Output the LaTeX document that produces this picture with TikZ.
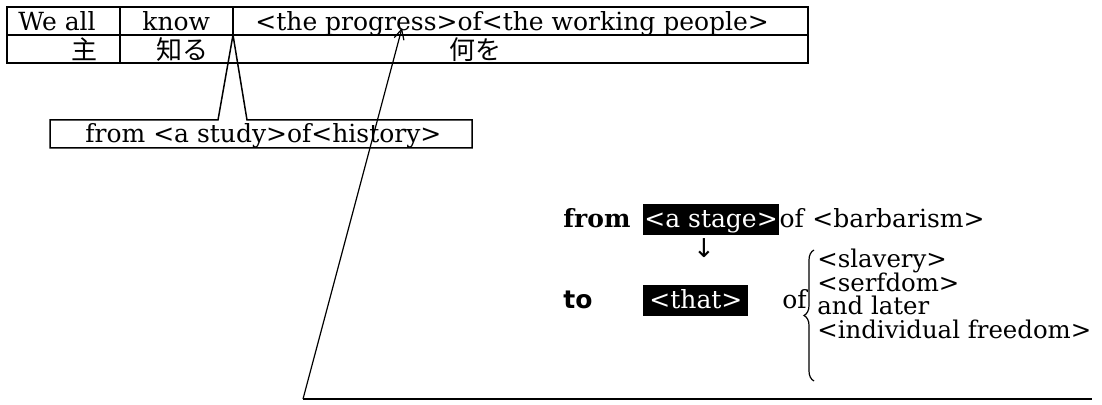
\documentclass[tikz,border=0pt]{standalone}
\usepackage{fontspec}
\setmainfont{DejaVu Serif}
\newfontfamily\jp{Noto Sans CJK JP}
\newfontfamily\sansf{DejaVu Sans}
\usetikzlibrary{arrows.meta,decorations.pathreplacing}
\begin{document}
\begin{tikzpicture}[x=0.5pt,y=-0.5pt,
  txt/.style={inner sep=0pt,anchor=base west,font=\fontsize{12.5pt}{14pt}\selectfont},
  ltxt/.style={inner sep=0pt,anchor=base west,font=\fontsize{12.2pt}{14pt}\selectfont},
  jtxt/.style={inner sep=0pt,anchor=base west,font=\fontsize{13pt}{14pt}\selectfont\jp},
  inv/.style={txt,fill=black,text=white,inner xsep=1.5pt,inner ysep=0pt,text depth=3.5pt,text height=12pt},
  rule/.style={line width=0.75pt},
  thin/.style={line width=0.6pt}]
\useasboundingbox (0,0) rectangle (1102,405);
% table
\coordinate (tl) at (7,7);
\coordinate (br) at (808,63);
\draw[rule] (tl) rectangle (br);
\draw[rule] (7,35) -- (808,35);
\draw[rule] (120,7) -- (120,63);
\draw[rule] (233,7) -- (233,35);
\node[txt] (weall) at (18,31) {We all};
\node[txt] (know) at (142,31) {know};
\node[txt] (prog) at (255,31) {<the progress>of<the working people>};
\node[jtxt] (shu) at (71,60) {主};
\node[jtxt] (shiru) at (156,60) {知る};
\node[jtxt] (naniwo) at (449,60) {何を};
% callout box
\coordinate (apex) at (233,35);
\draw[rule] (218,120) -- (apex) -- (247,120) -- (472,120) -- (472,148) -- (50,148) -- (50,120) -- cycle;
\node[txt] (study) at (85,143) {from <a study>of<history>};
% long arrow and base line
\coordinate (corner) at (303,399);
\coordinate (tip) at (402,28);
\coordinate (lineend) at (1092,399);
\draw[thin,-{Straight Barb[length=5pt,width=5pt]}] (corner) -- (tip);
\draw[rule] (corner) -- (lineend);
% from ... line
\node[txt,font=\fontsize{12.5pt}{14pt}\selectfont\bfseries] (from) at (563,228) {from};
\node[inv,inner xsep=0.5pt] (stage) at (643,228) {<a stage>};
\node[txt] (of1) at (stage.base east) {of};
\node[txt] (barb) at (812,228) {<barbarism>};
\node[inner sep=0pt,font=\fontsize{13pt}{14pt}\sansf] (down) at (704,248) {↓};
% to ... line
\node[txt,font=\fontsize{12.5pt}{14pt}\selectfont\sansf\bfseries] (to) at (563,309) {to};
\node[inv,inner xsep=0pt,minimum width=52.5pt] (that) at (643,309) {<that>};
\node[txt] (of2) at (782,309) {of};
\draw[thin,decorate,decoration={brace,amplitude=5pt}] (814,381) -- (814,250);
\node[ltxt] (l1) at (817,268) {<slavery>};
\node[ltxt] (l2) at (817,292) {<serfdom>};
\node[ltxt] (l3) at (817,315) {and later};
\node[ltxt] (l4) at (817,339) {<individual freedom>};
\end{tikzpicture}
\end{document}
